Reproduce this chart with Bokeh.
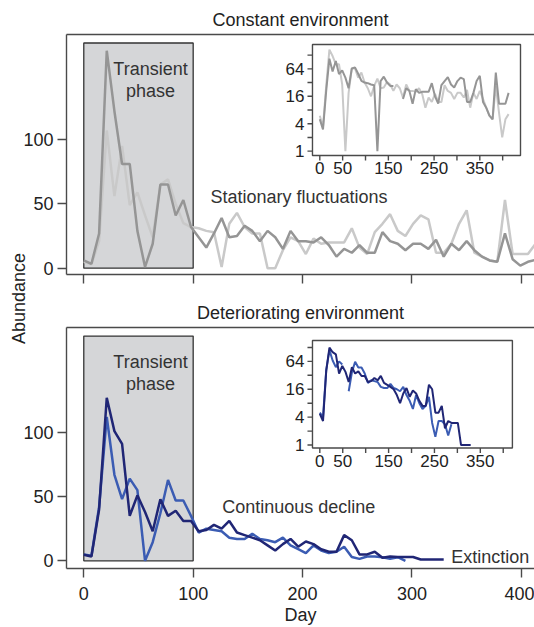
import math
from bokeh.plotting import figure
from bokeh.layouts import row, column
from bokeh.models import (Range1d, FixedTicker, LinearAxis, Label, BoxAnnotation,
                          CustomJSTickFormatter)
from bokeh.core.properties import value
from bokeh.embed import file_html
from bokeh.resources import INLINE

FONT = "Liberation Sans"
INK = "#222222"
AXIS = "#4a4a4a"

# ---------------- data ----------------
days = list(range(0, 414, 7))

const_dark = [6, 3.4, 27, 169, 122, 81, 81, 29, 1, 19,
              65, 65, 41, 53, 32, 24, 16, 27, 39, 24,
              25, 33, 29, 21, 29, 24, 15, 29, 21, 21,
              20, 24, 18, 9, 15, 12, 18, 12, 12, 28,
              21, 19, 14, 19, 19, 15, 22, 9, 19, 14,
              21, 14, 9, 6, 5, 27, 7, 2, 5, 6.5]

const_light = [5, 3, 21, 107, 56, 95, 49, 59, 41, 24,
               65, 69, 50, 35, 32, 31, 29, 28, 1, 34.5,
               43, 32, 27, 27, 0, 0, 14, 24, 21, 11,
               23, 19, 20, 20, 20, 31, 16, 11, 28, 34.5,
               42, 29, 25, 34.5, 41, 38, 12, 12, 19, 34.5,
               45, 12, 9, 6, 5, 53, 11, 11, 11, 19]

det_navy = [4.7, 3.3, 40, 127, 101, 91, 35, 51, 38, 23,
            48, 35, 39, 31, 31, 23, 24, 28, 25, 31,
            22, 20, 18, 16, 12, 8, 13, 17, 11, 15,
            13, 9, 7, 7, 20, 16, 5, 5, 7, 2.3,
            3.3, 3, 3, 3, 1, 1, 1, 1]

det_blue = [5, 4, 42, 112, 67, 48, 64, 55, 0, 14.5,
            37, 63, 47, 47, 35, 22, 25, 24, 23, 18,
            17, 17, 21, 17, 16, 14.5, 18, 12, 9, 6,
            12, 8, 6, 7, 11, 3, 1.5, 3.3, 3.3, 2.8,
            1.6, 2.8, 0]

days_navy = days[:len(det_navy)]
days_blue = days[:len(det_blue)]

main_yticks = [0, 50, 100]
main_xticks = [0, 100, 200, 300, 400]
inset_x_major = [0, 50, 150, 250, 350]
inset_x_minor = [100, 200, 300, 400]
inset_y_major = [1, 4, 16, 64]
inset_y_minor = [2, 8, 32, 128]

transient_left, transient_right, transient_bottom, transient_top = 0, 100, 0, 175

C_DARK = "#959595"
C_LIGHT = "#c9c9c9"
C_NAVY = "#202675"
C_BLUE = "#3b5cb3"


def log2_safe(vals):
    # inset is on a doubling (log2) scale; zero abundances leave a gap
    return [math.log2(v) if v > 0 else float("nan") for v in vals]


def style_axis(ax, major, tick_out, standoff, size):
    ax.ticker = FixedTicker(ticks=major)
    ax.major_tick_out = tick_out
    ax.major_tick_in = 0
    ax.minor_tick_out = 0
    ax.minor_tick_in = 0
    ax.axis_line_color = AXIS
    ax.axis_line_width = 1.4
    ax.major_tick_line_color = AXIS
    ax.major_tick_line_width = 1.4
    ax.major_label_standoff = standoff
    ax.major_label_text_font = FONT
    ax.major_label_text_font_size = size
    ax.major_label_text_color = INK


PW = 518
LEFT_BORDER = 50


def main_panel(title, height, top, bottom, yr, xlabels):
    p = figure(width=PW, height=height, title=title,
               x_range=Range1d(-15.8, 412), y_range=Range1d(*yr),
               output_backend="svg", toolbar_location=None,
               min_border_left=LEFT_BORDER, min_border_right=0,
               min_border_top=top, min_border_bottom=bottom)
    p.border_fill_color = None
    p.title.align = "center"
    p.title.text_font = FONT
    p.title.text_font_size = "18px"
    p.title.text_font_style = "normal"
    p.title.text_color = INK
    p.title.standoff = 9
    p.outline_line_color = None
    p.grid.visible = False
    style_axis(p.yaxis[0], main_yticks, 9, 4, "18px")
    style_axis(p.xaxis[0], main_xticks, 9, 9, "18px")
    if xlabels:
        p.xaxis[0].axis_label = "Day"
        p.xaxis[0].axis_label_standoff = 2
        p.xaxis[0].axis_label_text_font = FONT
        p.xaxis[0].axis_label_text_font_size = "18px"
        p.xaxis[0].axis_label_text_font_style = "normal"
        p.xaxis[0].axis_label_text_color = INK
    else:
        p.xaxis[0].formatter = CustomJSTickFormatter(code="return ''")
        p.xaxis[0].major_label_text_font_size = "0px"
        p.xaxis[0].major_label_standoff = 0
    top_axis = LinearAxis(ticker=FixedTicker(ticks=[]), axis_line_color=AXIS,
                          axis_line_width=1.4, major_tick_out=0, major_tick_in=0,
                          minor_tick_out=0, minor_tick_in=0,
                          major_label_text_font_size="0px", major_label_standoff=0)
    p.add_layout(top_axis, "above")
    p.add_layout(BoxAnnotation(left=transient_left, right=transient_right,
                               bottom=transient_bottom, top=transient_top,
                               fill_color="#d5d6d8", fill_alpha=1.0,
                               line_color="#333333", line_width=1.3, line_alpha=1.0,
                               level="underlay"))
    for txt, yy in (("Transient", 155), ("phase", 138)):
        p.add_layout(Label(x=61, y=yy, text=txt, text_align="center",
                           text_baseline="middle", text_font=FONT,
                           text_font_size="18px", text_color="#333333"))
    return p


def label(p, x, y, txt):
    p.add_layout(Label(x=x, y=y, text=txt, text_align="left", text_baseline="middle",
                       text_font=FONT, text_font_size="18px", text_color="#333333"))


def add_inset(p, frame, xsrc, ysrc):
    """Inset on a log2 (doubling) scale drawn in a sub-coordinate system of the panel."""
    left, right, bottom, top = frame
    p.quad(left=[left], right=[right], bottom=[bottom], top=[top],
           fill_color="white", line_color=AXIS, line_width=1.4)
    sub = p.subplot(x_source=Range1d(*xsrc), y_source=Range1d(*ysrc),
                    x_target=Range1d(left, right), y_target=Range1d(bottom, top))
    x0, y0 = xsrc[0], ysrc[0]
    xt = inset_x_major + inset_x_minor
    yt = [math.log2(t) for t in inset_y_major + inset_y_minor]
    sub.ray(x=xt, y=[y0] * len(xt), length=5, length_units="screen",
            angle=-math.pi / 2, line_color=AXIS, line_width=1.4)
    sub.ray(x=[x0] * len(yt), y=yt, length=5, length_units="screen",
            angle=math.pi, line_color=AXIS, line_width=1.4)
    sub.text(x=inset_x_major, y=[y0] * len(inset_x_major),
             text=[str(t) for t in inset_x_major], text_align="center",
             text_baseline="top", y_offset=7, text_font=value(FONT),
             text_font_size=value("17px"), text_color=INK)
    sub.text(x=[x0] * len(inset_y_major), y=[math.log2(t) for t in inset_y_major],
             text=[str(t) for t in inset_y_major], text_align="right",
             text_baseline="middle", x_offset=-8, text_font=value(FONT),
             text_font_size=value("17px"), text_color=INK)
    return sub


# ---------------- top panel ----------------
p1 = main_panel("Constant environment", 296, 34, 22, (-4.9, 181.6), False)
s1 = add_inset(p1, (209.05, 399.2, 87.6, 173.8), (-16, 439), (-0.313, 7.77))
p1.line(days, const_light, line_color=C_LIGHT, line_width=2.5)
p1.line(days, const_dark, line_color=C_DARK, line_width=2.5)
s1.line(days, log2_safe(const_dark), line_color=C_LIGHT, line_width=2)
s1.line(days, log2_safe(const_light), line_color=C_DARK, line_width=2)
label(p1, 115.8, 55, "Stationary fluctuations")

# ---------------- bottom panel ----------------
p2 = main_panel("Deteriorating environment", 331, 31, 59, (-6.0, 181.7), True)
s2 = add_inset(p2, (209.05, 391.8, 87.8, 171.6), (-16, 420), (-0.218, 7.5))
p2.line(days_blue, det_blue, line_color=C_BLUE, line_width=2.5)
p2.line(days_navy, det_navy, line_color=C_NAVY, line_width=2.5)
s2.line(days_blue, log2_safe(det_blue), line_color=C_BLUE, line_width=2)
s2.line(days_navy, log2_safe(det_navy), line_color=C_NAVY, line_width=2)
label(p2, 126.5, 41.7, "Continuous decline")
label(p2, 335.8, 3.3, "Extinction")

# ---------------- shared y label: an axis title in a thin strip ----------------
W = 30
lab = figure(width=W, height=627, x_range=Range1d(0, 1), y_range=Range1d(0, 1),
             x_axis_location=None, y_axis_location=None,
             min_border_left=28, min_border_right=0, min_border_top=0,
             min_border_bottom=31, output_backend="svg", toolbar_location=None)
lab.outline_line_color = None
lab.grid.visible = False
lab.border_fill_color = None
lab.background_fill_color = None
lab.styles = {"position": "relative", "z-index": "5"}
ylab_axis = LinearAxis(ticker=FixedTicker(ticks=[]), axis_line_color=None,
                       major_tick_out=0, major_tick_in=0, minor_tick_out=0,
                       minor_tick_in=0, major_label_standoff=0,
                       major_label_text_font_size="0px",
                       axis_label="Abundance", axis_label_standoff=0,
                       axis_label_text_font=FONT, axis_label_text_font_size="18px",
                       axis_label_text_font_style="normal", axis_label_text_color=INK)
lab.add_layout(ylab_axis, "left")

panels = column(p1, p2, spacing=0)
panels.margin = (0, 0, 0, 16 - W)   # panels start at x=16, under the label strip
layout = row(lab, panels, spacing=0)

open("out.html", "w").write(file_html(layout, INLINE))
